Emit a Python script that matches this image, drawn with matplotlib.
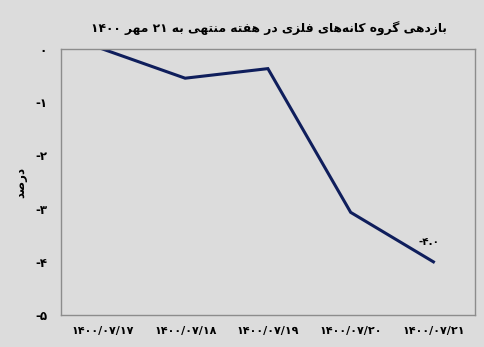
import matplotlib
matplotlib.use("Agg")
import matplotlib.pyplot as plt

# ---------------- data ----------------
categories = ["۱۴۰۰/۰۷/۱۷", "۱۴۰۰/۰۷/۱۸", "۱۴۰۰/۰۷/۱۹", "۱۴۰۰/۰۷/۲۰", "۱۴۰۰/۰۷/۲۱"]
values = [0.0, -0.55, -0.37, -3.07, -4.0]
y_ticks = [0, -1, -2, -3, -4, -5]
y_tick_labels = ["۰", "-۱", "-۲", "-۳", "-۴", "-۵"]
last_label = "-۴.۰"
title_text = "بازدهی گروه کانه\u200cهای فلزی در هفته منتهی به ۲۱ مهر ۱۴۰۰"
ylabel_text = "درصد"

# ------------- minimal Persian shaping (presentation forms + RTL) -------------
FORMS = {  # isolated, final, initial, medial
    "ا": ("\uFE8D", "\uFE8E", None, None),
    "ب": ("\uFE8F", "\uFE90", "\uFE91", "\uFE92"),
    "ت": ("\uFE95", "\uFE96", "\uFE97", "\uFE98"),
    "د": ("\uFEA9", "\uFEAA", None, None),
    "ر": ("\uFEAD", "\uFEAE", None, None),
    "ز": ("\uFEAF", "\uFEB0", None, None),
    "ص": ("\uFEB9", "\uFEBA", "\uFEBB", "\uFEBC"),
    "ف": ("\uFED1", "\uFED2", "\uFED3", "\uFED4"),
    "ل": ("\uFEDD", "\uFEDE", "\uFEDF", "\uFEE0"),
    "م": ("\uFEE1", "\uFEE2", "\uFEE3", "\uFEE4"),
    "ن": ("\uFEE5", "\uFEE6", "\uFEE7", "\uFEE8"),
    "ه": ("\uFEE9", "\uFEEA", "\uFEEB", "\uFEEC"),
    "و": ("\uFEED", "\uFEEE", None, None),
    "ی": ("\uFBFC", "\uFBFD", "\uFBFE", "\uFBFF"),
    "گ": ("\uFB92", "\uFB93", "\uFB94", "\uFB95"),
    "ک": ("\uFB8E", "\uFB8F", "\uFB90", "\uFB91"),
}


def dual(c):
    return c in FORMS and FORMS[c][2] is not None


def shape_word(w):
    out = []
    for i, c in enumerate(w):
        if c not in FORMS:
            if c != "\u200c":
                out.append(c)
            continue
        prev = w[i - 1] if i > 0 else None
        nxt = w[i + 1] if i + 1 < len(w) else None
        pc = prev is not None and dual(prev)
        nc = dual(c) and nxt is not None and nxt in FORMS
        iso, fin, ini, med = FORMS[c]
        if pc and nc:
            out.append(med)
        elif pc:
            out.append(fin)
        elif nc:
            out.append(ini)
        else:
            out.append(iso)
    return "".join(out)


def rtl(text):
    tokens = text.split(" ")
    vis = []
    for t in reversed(tokens):
        if any(ch in FORMS for ch in t):
            vis.append(shape_word(t)[::-1])
        else:
            vis.append(t)
    return " ".join(vis)


# ---------------- plot ----------------
bg = "#DCDCDC"
fam = ["DejaVu Sans"]
fig = plt.figure(figsize=(4.84, 3.47), dpi=100, facecolor=bg)
ax = fig.add_axes([0.126, 0.092, 0.855, 0.767], facecolor=bg)

x = list(range(len(categories)))
ax.plot(x, values, color="#0F1E5C", linewidth=2.2, solid_joinstyle="miter")

ax.set_xlim(-0.5, len(categories) - 0.5)
ax.set_ylim(-5, 0)
ax.set_yticks(y_ticks)
ax.set_yticklabels(y_tick_labels, fontfamily=fam, fontweight="bold", fontsize=8.5)
ax.set_xticks(x)
ax.set_xticklabels(categories, fontfamily=fam, fontweight="bold", fontsize=8)
ax.tick_params(axis="both", length=0)
ax.tick_params(axis="y", pad=10)
ax.tick_params(axis="x", pad=8)

for s in ax.spines.values():
    s.set_color("#8C8C8C")
    s.set_linewidth(1.0)

ax.annotate(last_label, (x[-1], values[-1]), xytext=(-3, 11),
            textcoords="offset points", ha="center", va="bottom",
            fontfamily=fam, fontweight="bold", fontsize=7.5)

fig.text(0.555, 0.918, rtl(title_text), ha="center", va="center",
         fontfamily=fam, fontweight="bold", fontsize=8.8)
fig.text(0.042, 0.475, rtl(ylabel_text), ha="center", va="center", rotation=90,
         fontfamily=fam, fontweight="bold", fontsize=8.5)

fig.savefig("out.png", dpi=100, facecolor=bg)
